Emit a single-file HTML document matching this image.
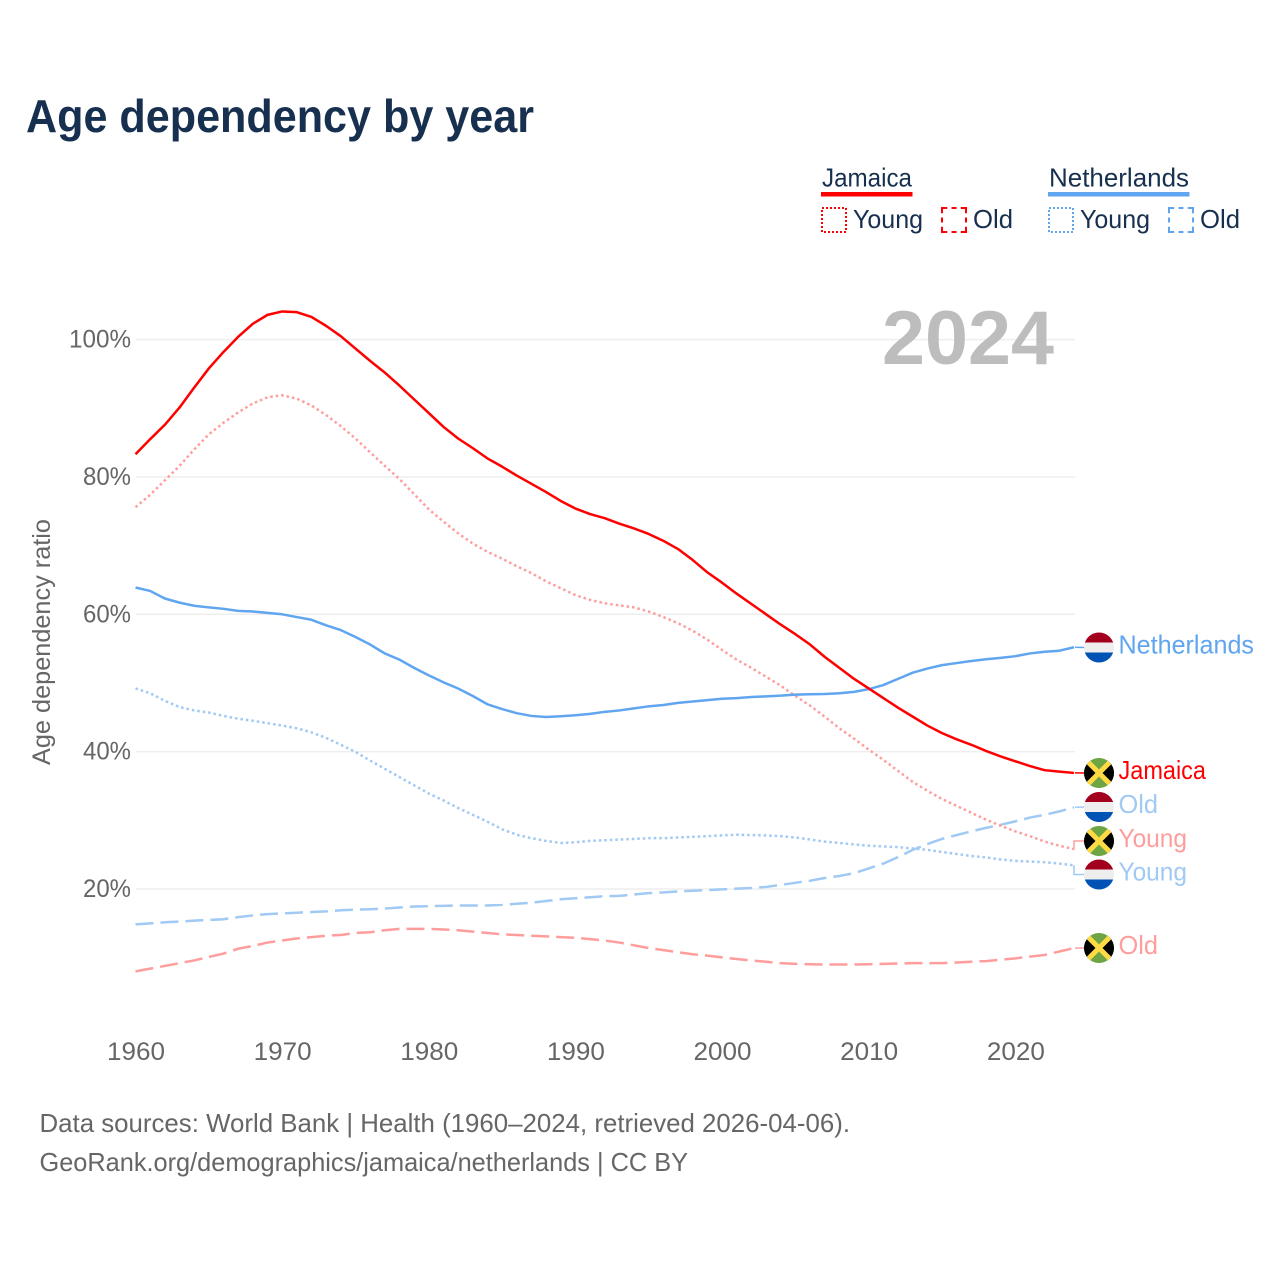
<!DOCTYPE html>
<html lang="en">
<head>
<meta charset="utf-8">
<title>Age dependency by year</title>
<style>
html,body{margin:0;padding:0;background:#fff;}
svg{display:block;}
text{font-family:"Liberation Sans",sans-serif;}
</style>
</head>
<body>
<svg id="chart" xmlns="http://www.w3.org/2000/svg" width="1280" height="1280" viewBox="0 0 1280 1280">
  <defs>
    <clipPath id="flag-clip"><circle cx="0" cy="0" r="15"/></clipPath>
    <g id="flag-nl" clip-path="url(#flag-clip)">
      <rect x="-16" y="-16" width="32" height="11" fill="#a2001d"/>
      <rect x="-16" y="-5" width="32" height="10" fill="#eeeeee"/>
      <rect x="-16" y="5" width="32" height="11" fill="#0052b4"/>
    </g>
    <g id="flag-jm" clip-path="url(#flag-clip)">
      <rect x="-16" y="-16" width="32" height="32" fill="#6da544"/>
      <polygon points="-16,-16 0,0 -16,16" fill="#000000"/>
      <polygon points="16,-16 0,0 16,16" fill="#000000"/>
      <path d="M-14,-14 L14,14 M14,-14 L-14,14" stroke="#ffda44" stroke-width="5" fill="none"/>
    </g>
  </defs>
  <rect x="0" y="0" width="1280" height="1280" fill="#ffffff"/>
  <text x="26" y="132" font-size="46" font-weight="700" fill="#17304f" textLength="508" lengthAdjust="spacingAndGlyphs">Age dependency by year</text>

  <g font-size="26" fill="#17304f">
    <text x="822" y="186.5" textLength="90" lengthAdjust="spacingAndGlyphs">Jamaica</text>
    <rect x="821" y="192" width="91.5" height="4.5" fill="#ff0000"/>
    <rect x="822" y="208" width="24" height="24" fill="none" stroke="#ff0000" stroke-width="2" stroke-dasharray="2 2"/>
    <text x="853" y="228" textLength="70" lengthAdjust="spacingAndGlyphs">Young</text>
    <rect x="942" y="208" width="24" height="24" fill="none" stroke="#ff0000" stroke-width="2" stroke-dasharray="10.5 4.25 5 4.25" stroke-dashoffset="5.25"/>
    <text x="973" y="228" textLength="40" lengthAdjust="spacingAndGlyphs">Old</text>
    <text x="1049" y="186.5" textLength="140" lengthAdjust="spacingAndGlyphs">Netherlands</text>
    <rect x="1048" y="192" width="141.5" height="4.5" fill="#60a5f0"/>
    <rect x="1049" y="208" width="24" height="24" fill="none" stroke="#60a5f0" stroke-width="2" stroke-dasharray="2 2"/>
    <text x="1080" y="228" textLength="70" lengthAdjust="spacingAndGlyphs">Young</text>
    <rect x="1169" y="208" width="24" height="24" fill="none" stroke="#60a5f0" stroke-width="2" stroke-dasharray="10.5 4.25 5 4.25" stroke-dashoffset="5.25"/>
    <text x="1200" y="228" textLength="40" lengthAdjust="spacingAndGlyphs">Old</text>
  </g>

  <g id="grid"></g>
  <text x="882" y="364" font-size="76" font-weight="700" fill="#bdbdbd" textLength="172" lengthAdjust="spacingAndGlyphs">2024</text>
  <g id="y-ticks" font-size="25" fill="#666666"></g>
  <g id="x-ticks" font-size="25" fill="#666666"></g>
  <text transform="translate(50 765) rotate(-90)" x="0" y="0" font-size="25" fill="#666666" textLength="246" lengthAdjust="spacingAndGlyphs">Age dependency ratio</text>
  <g id="series"></g>
  <g id="end-labels" font-size="26"></g>

  <text x="39.5" y="1132" font-size="26" fill="#666666" textLength="810.5" lengthAdjust="spacingAndGlyphs">Data sources: World Bank | Health (1960–2024, retrieved 2026-04-06).</text>
  <text x="39.5" y="1171" font-size="26" fill="#666666" textLength="648.5" lengthAdjust="spacingAndGlyphs">GeoRank.org/demographics/jamaica/netherlands | CC BY</text>
</svg>
<script>
const SVG_NS = 'http://www.w3.org/2000/svg';

const firstYear = 1960;
const yearTicks = [1960, 1970, 1980, 1990, 2000, 2010, 2020];
const percentTicks = [20, 40, 60, 80, 100];

const jamaicaTotal = [
  83.3,85.5,87.6,90.1,93.0,95.8,98.2,100.4,102.3,103.6,
  104.1,104.0,103.3,102.0,100.5,98.7,96.9,95.2,93.3,91.3,
  89.3,87.3,85.6,84.2,82.7,81.5,80.2,79.0,77.8,76.5,
  75.4,74.6,74.0,73.2,72.5,71.7,70.7,69.5,67.9,66.1,
  64.6,63.0,61.5,60.0,58.5,57.1,55.6,53.8,52.2,50.6,
  49.2,47.8,46.4,45.1,43.8,42.7,41.8,41.0,40.1,39.3,
  38.6,37.9,37.3,37.1,36.9
];
const jamaicaYoung = [
  75.6,77.4,79.5,81.6,84.0,86.2,87.9,89.4,90.7,91.6,
  91.9,91.4,90.4,89.0,87.4,85.6,83.6,81.6,79.7,77.5,
  75.3,73.5,71.8,70.3,69.1,68.1,67.0,66.0,64.8,63.8,
  62.8,62.1,61.6,61.3,61.0,60.4,59.6,58.7,57.6,56.3,
  54.8,53.4,52.2,50.9,49.6,48.1,46.7,45.1,43.4,41.9,
  40.3,38.8,37.2,35.6,34.3,33.1,32.1,31.1,30.1,29.2,
  28.4,27.7,26.9,26.3,25.8
];
const jamaicaOld = [
  8.0,8.4,8.8,9.2,9.6,10.1,10.6,11.3,11.7,12.2,
  12.5,12.8,13.0,13.2,13.3,13.6,13.7,14.0,14.2,14.2,
  14.2,14.1,14.0,13.8,13.6,13.4,13.3,13.2,13.1,13.0,
  12.9,12.7,12.5,12.2,11.8,11.4,11.1,10.8,10.5,10.3,
  10.05,9.8,9.6,9.4,9.2,9.1,9.05,9.0,9.0,9.0,
  9.05,9.1,9.15,9.2,9.2,9.2,9.3,9.4,9.5,9.7,
  9.9,10.15,10.4,10.9,11.4
];
const netherlandsTotal = [
  63.9,63.4,62.3,61.7,61.25,61.0,60.8,60.5,60.4,60.2,
  60.0,59.6,59.2,58.4,57.7,56.7,55.6,54.3,53.4,52.2,
  51.1,50.1,49.2,48.1,46.9,46.2,45.6,45.2,45.05,45.15,
  45.3,45.5,45.8,46.0,46.3,46.6,46.8,47.1,47.3,47.5,
  47.7,47.8,47.95,48.05,48.15,48.3,48.35,48.4,48.5,48.7,
  49.1,49.7,50.6,51.5,52.1,52.6,52.9,53.2,53.45,53.65,
  53.9,54.3,54.55,54.7,55.2
];
const netherlandsYoung = [
  49.2,48.5,47.4,46.5,46.0,45.7,45.2,44.8,44.5,44.15,
  43.8,43.4,42.8,42.0,41.0,39.95,38.7,37.5,36.3,35.1,
  33.9,32.9,31.8,30.8,29.8,28.7,27.9,27.4,27.0,26.7,
  26.8,27.0,27.1,27.2,27.3,27.4,27.4,27.5,27.6,27.7,
  27.8,27.9,27.85,27.8,27.7,27.5,27.2,26.9,26.7,26.5,
  26.3,26.2,26.1,25.9,25.7,25.4,25.1,24.8,24.6,24.3,
  24.1,24.0,23.9,23.7,23.45
];
const netherlandsOld = [
  14.85,15.0,15.15,15.25,15.4,15.5,15.6,15.9,16.15,16.35,
  16.45,16.55,16.65,16.75,16.9,17.0,17.05,17.15,17.3,17.45,
  17.5,17.55,17.6,17.6,17.6,17.7,17.85,18.0,18.25,18.5,
  18.65,18.8,18.95,19.0,19.2,19.4,19.5,19.65,19.75,19.85,
  19.95,20.05,20.15,20.3,20.6,20.9,21.2,21.6,21.9,22.3,
  23.0,23.7,24.65,25.7,26.55,27.3,27.85,28.4,28.9,29.35,
  29.85,30.4,30.8,31.3,31.9
];

function xScale(year) { return 135.5 + (year - 1960) * 14.664; }
function yScale(pct) { return 889 - (pct - 20) * 6.8675; }
function make(tag, attrs) {
  const el = document.createElementNS(SVG_NS, tag);
  for (const k in attrs) el.setAttribute(k, attrs[k]);
  return el;
}

const gridGroup = document.getElementById('grid');
const yTickGroup = document.getElementById('y-ticks');
percentTicks.forEach(function (p) {
  const line = make('line', { x1: 136, x2: 1075, y1: yScale(p), y2: yScale(p), stroke: '#eeeeee', 'stroke-width': 1.5 });
  
  
  gridGroup.appendChild(line);
  const label = make('text', { x: 131, y: yScale(p) + 8, 'text-anchor': 'end', textLength: p === 100 ? 62 : 48, lengthAdjust: 'spacingAndGlyphs' });
  
  
  label.textContent = p + '%';
  yTickGroup.appendChild(label);
});

const xTickGroup = document.getElementById('x-ticks');
yearTicks.forEach(function (yr) {
  const label = make('text', { x: xScale(yr) + 0.5, y: 1060, 'text-anchor': 'middle', textLength: 58, lengthAdjust: 'spacingAndGlyphs' });
  
  
  label.textContent = yr;
  xTickGroup.appendChild(label);
});

const seriesGroup = document.getElementById('series');
function drawSeries(name, values, color, dash) {
  const d = values.map(function (v, i) {
    return (i ? 'L' : 'M') + xScale(firstYear + i).toFixed(2) + ' ' + yScale(v).toFixed(2);
  }).join(' ');
  const path = make('path', { d: d, fill: 'none', stroke: color, 'stroke-width': 2.5, 'stroke-linejoin': 'round' });
  if (dash) path.setAttribute('stroke-dasharray', dash);
  
  
  seriesGroup.appendChild(path);
}

const RED = '#ff0000', BLUE = '#60a5f0', PINK = '#ff9d9d', LIGHT = '#a0c9f4';
const DOT = '2.5 3', DASH = '18 7';
drawSeries('line-jamaica-old', jamaicaOld, PINK, DASH);
drawSeries('line-netherlands-old', netherlandsOld, LIGHT, DASH);
drawSeries('line-netherlands-young', netherlandsYoung, LIGHT, DOT);
drawSeries('line-jamaica-young', jamaicaYoung, PINK, DOT);
drawSeries('line-netherlands-total', netherlandsTotal, BLUE, null);
drawSeries('line-jamaica-total', jamaicaTotal, RED, null);

const labelGroup = document.getElementById('end-labels');
function drawEndLabel(key, text, values, color, flag, flagY, width) {
  const endY = yScale(values[values.length - 1]);
  const step = Math.abs(endY - flagY) > 4;
  const d = step
    ? 'M1074 ' + endY.toFixed(1) + ' V' + flagY + ' H1084'
    : 'M1075 ' + endY.toFixed(1) + ' L1084 ' + flagY;
  const conn = make('path', { d: d, fill: 'none', stroke: color, 'stroke-width': 1.5 });
  
  
  labelGroup.appendChild(conn);
  const use = make('use', { href: '#' + flag, transform: 'translate(1099 ' + flagY + ')' });
  
  
  labelGroup.appendChild(use);
  const label = make('text', { x: 1118.5, y: flagY + 6, fill: color, textLength: width, lengthAdjust: 'spacingAndGlyphs' });
  
  
  label.textContent = text;
  labelGroup.appendChild(label);
}
drawEndLabel('jamaica-old', 'Old', jamaicaOld, PINK, 'flag-jm', 948, 39.5);
drawEndLabel('netherlands-total', 'Netherlands', netherlandsTotal, BLUE, 'flag-nl', 647.5, 135.5);
drawEndLabel('jamaica-total', 'Jamaica', jamaicaTotal, RED, 'flag-jm', 773, 87.5);
drawEndLabel('netherlands-old', 'Old', netherlandsOld, LIGHT, 'flag-nl', 807, 39.5);
drawEndLabel('jamaica-young', 'Young', jamaicaYoung, PINK, 'flag-jm', 841, 68.5);
drawEndLabel('netherlands-young', 'Young', netherlandsYoung, LIGHT, 'flag-nl', 874.5, 68.5);
</script>
</body>
</html>
